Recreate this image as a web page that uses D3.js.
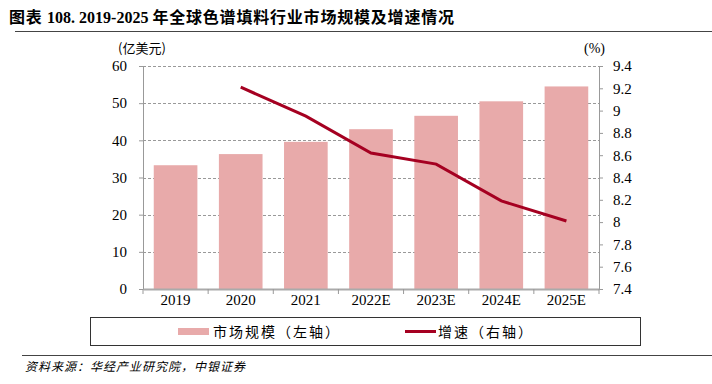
<!DOCTYPE html>
<html>
<head>
<meta charset="utf-8">
<script src="https://cdn.jsdelivr.net/npm/d3@7"></script>
<style>
  body { margin: 0; background: #fff; }
  svg { display: block; }
</style>
</head>
<body>
<div id="chart"></div>
<script>
const years = ["2019", "2020", "2021", "2022E", "2023E", "2024E", "2025E"];
const marketSize = [33.3, 36.3, 39.6, 43.0, 46.6, 50.5, 54.5];
const growth = [null, 9.21, 8.95, 8.62, 8.52, 8.19, 8.01];
const leftTicks = [0, 10, 20, 30, 40, 50, 60];
const rightTicks = [7.4, 7.6, 7.8, 8, 8.2, 8.4, 8.6, 8.8, 9, 9.2, 9.4];

const width = 712, height = 384;
const margin = { top: 66, right: 113, bottom: 95, left: 143 };
const serif = "'Liberation Serif', 'Times New Roman', serif";
const cjk = "'Noto Sans CJK SC', sans-serif";

const svg = d3.select("#chart").append("svg")
  .attr("width", width)
  .attr("height", height);

// title
const title = svg.append("text")
  .attr("x", 9)
  .attr("y", 23)
  .attr("font-family", cjk)
  .attr("font-weight", "bold")
  .attr("font-size", 16)
  .attr("fill", "#000");
title.append("tspan").attr("letter-spacing", 0.8).text("图表 ");
title.append("tspan").attr("font-family", serif).text("108. 2019-2025 ");
title.append("tspan").attr("letter-spacing", 0.8).text("年全球色谱填料行业市场规模及增速情况");
svg.append("line")
  .attr("x1", 15).attr("x2", width)
  .attr("y1", 31.5).attr("y2", 31.5)
  .attr("stroke", "#444").attr("stroke-width", 1);

const x = d3.scaleBand()
  .domain(years)
  .range([margin.left, width - margin.right])
  .paddingInner(0.33)
  .paddingOuter(0.165);

const y = d3.scaleLinear()
  .domain([0, 60])
  .range([height - margin.bottom, margin.top]);

const y2 = d3.scaleLinear()
  .domain([7.4, 9.4])
  .range([height - margin.bottom, margin.top]);

// gridlines
svg.append("g")
  .selectAll("line")
  .data(leftTicks.filter(d => d > 0))
  .join("line")
  .attr("x1", margin.left).attr("x2", width - margin.right)
  .attr("y1", d => Math.round(y(d)) + 0.5).attr("y2", d => Math.round(y(d)) + 0.5)
  .attr("stroke", "#999")
  .attr("stroke-dasharray", "3,2");

// bars
svg.append("g")
  .selectAll("rect")
  .data(years)
  .join("rect")
  .attr("x", d => x(d))
  .attr("width", x.bandwidth())
  .attr("y", (d, i) => y(marketSize[i]))
  .attr("height", (d, i) => y(0) - y(marketSize[i]))
  .attr("fill", "#E8AAAA");

// left axis
const gl = svg.append("g")
  .attr("transform", `translate(${margin.left},0)`)
  .call(d3.axisLeft(y).tickValues(leftTicks).tickSize(4).tickPadding(12));
gl.select(".domain").attr("stroke", "#999");
gl.selectAll(".tick line").attr("stroke", "#999");
gl.selectAll("text").attr("font-family", serif).attr("font-size", 15).attr("fill", "#000");

// right axis
const gr = svg.append("g")
  .attr("transform", `translate(${width - margin.right},0)`)
  .call(d3.axisRight(y2).tickValues(rightTicks).tickFormat(d3.format("~g")).tickSize(4).tickPadding(10));
gr.select(".domain").attr("stroke", "#999");
gr.selectAll(".tick line").attr("stroke", "#999");
gr.selectAll("text").attr("font-family", serif).attr("font-size", 15).attr("fill", "#000");

// x axis
const gx = svg.append("g")
  .attr("transform", `translate(0,${height - margin.bottom})`)
  .call(d3.axisBottom(x).tickSize(0).tickPadding(5));
gx.select(".domain").attr("stroke", "#aaa").attr("stroke-width", 2);
gx.selectAll("text").attr("font-family", serif).attr("font-size", 15).attr("fill", "#000");
// tick marks between categories
const step = x.step();
svg.append("g")
  .selectAll("line")
  .data(d3.range(years.length + 1))
  .join("line")
  .attr("x1", i => margin.left + i * step)
  .attr("x2", i => margin.left + i * step)
  .attr("y1", height - margin.bottom)
  .attr("y2", height - margin.bottom + 5)
  .attr("stroke", "#999");

// growth line
const line = d3.line()
  .defined(d => d.v != null)
  .x(d => x(d.k) + x.bandwidth() / 2)
  .y(d => y2(d.v));
svg.append("path")
  .datum(years.map((k, i) => ({ k, v: growth[i] })))
  .attr("fill", "none")
  .attr("stroke", "#A50021")
  .attr("stroke-width", 3)
  .attr("d", line);

// unit labels
svg.append("text")
  .attr("x", 118).attr("y", 53)
  .attr("font-family", cjk).attr("font-size", 13)
  .text("(亿美元)");
svg.append("text")
  .attr("x", 584).attr("y", 53)
  .attr("font-family", serif).attr("font-size", 14)
  .text("(%)");

// legend
svg.append("rect")
  .attr("x", 90.5).attr("y", 317.5)
  .attr("width", 550).attr("height", 28)
  .attr("fill", "none").attr("stroke", "#333").attr("stroke-width", 1);
svg.append("rect")
  .attr("x", 178).attr("y", 328)
  .attr("width", 31).attr("height", 7)
  .attr("fill", "#E8AAAA");
svg.append("text")
  .attr("x", 213).attr("y", 337)
  .attr("font-family", cjk).attr("font-size", 14)
  .attr("letter-spacing", 2)
  .text("市场规模（左轴）");
svg.append("line")
  .attr("x1", 405).attr("x2", 436)
  .attr("y1", 331.5).attr("y2", 331.5)
  .attr("stroke", "#A50021").attr("stroke-width", 3);
svg.append("text")
  .attr("x", 438).attr("y", 337)
  .attr("font-family", cjk).attr("font-size", 14)
  .attr("letter-spacing", 2)
  .text("增速（右轴）");

// footer
svg.append("line")
  .attr("x1", 22).attr("x2", width)
  .attr("y1", 355.5).attr("y2", 355.5)
  .attr("stroke", "#444").attr("stroke-width", 1);
svg.append("text")
  .attr("x", 25).attr("y", 371)
  .attr("font-family", cjk).attr("font-size", 12)
  .attr("font-style", "italic")
  .attr("letter-spacing", 1)
  .text("资料来源：华经产业研究院，中银证券");
</script>
</body>
</html>
